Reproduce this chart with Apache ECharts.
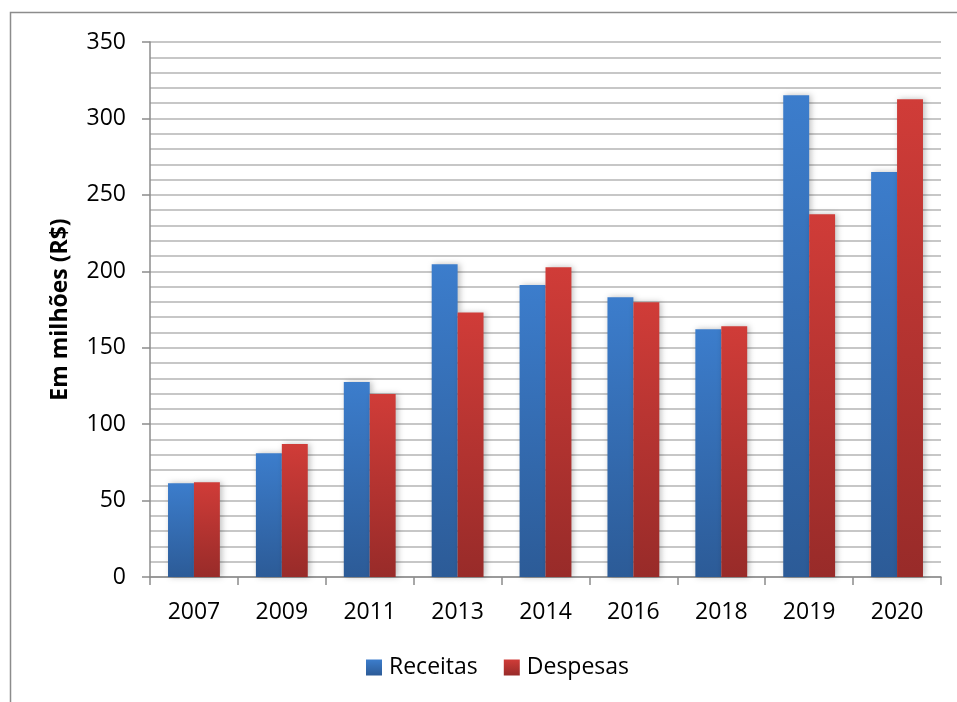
<!DOCTYPE html>
<html>
<head>
<meta charset="utf-8">
<script src="https://cdn.jsdelivr.net/npm/echarts@6/dist/echarts.min.js"></script>
<style>
html,body{margin:0;padding:0;background:#fff;}
#chart{width:957px;height:702px;}
</style>
</head>
<body>
<div id="chart"></div>
<script>
const categories = ['2007','2009','2011','2013','2014','2016','2018','2019','2020'];
const receitas = [61.3, 81, 127.5, 204.6, 191, 183, 162, 315.2, 264.9];
const despesas = [62, 87, 119.7, 173, 202.7, 179.7, 164, 237.3, 312.6];
const seriesNames = ['Receitas', 'Despesas'];
const yAxisName = 'Em milhões (R$)';

const FONT = '"Open Sans", "Noto Sans", sans-serif';
const chart = echarts.init(document.getElementById('chart'), null, {renderer: 'canvas'});

function grad(top, bottom) {
  return new echarts.graphic.LinearGradient(0, 0, 0, 1, [
    {offset: 0, color: top}, {offset: 1, color: bottom}
  ]);
}

chart.setOption({
  animation: false,
  backgroundColor: '#fff',
  graphic: [{
    type: 'rect',
    shape: {x: 10.5, y: 12.5, width: 1000, height: 1000},
    style: {fill: 'none', stroke: '#8c8c8c', lineWidth: 1.5},
    silent: true, z: -1
  }],
  grid: {left: 150, right: 16, top: 42, bottom: 125, containLabel: false},
  legend: {
    data: seriesNames,
    bottom: 18,
    left: 361,
    itemWidth: 16, itemHeight: 16, itemGap: 26,
    icon: 'rect',
    textStyle: {fontFamily: FONT, fontSize: 23, color: '#000', padding: [0,0,0,2]}
  },
  xAxis: {
    type: 'category',
    data: categories,
    axisLine: {lineStyle: {color: '#8c8c8c', width: 1.5}},
    axisTick: {show: true, length: 8, lineStyle: {color: '#8c8c8c', width: 1.5}},
    axisLabel: {fontFamily: FONT, fontSize: 23, color: '#000', margin: 24},
    splitLine: {show: false}
  },
  yAxis: {
    type: 'value',
    min: 0, max: 350, interval: 50,
    name: yAxisName,
    nameLocation: 'middle',
    nameGap: 78,
    nameTextStyle: {fontFamily: FONT, fontSize: 23, fontWeight: 'bold', color: '#000'},
    axisLine: {show: true, lineStyle: {color: '#8c8c8c', width: 1.5}},
    axisTick: {show: true, length: 8, lineStyle: {color: '#8c8c8c', width: 1.5}},
    axisLabel: {fontFamily: FONT, fontSize: 23, color: '#000', margin: 24},
    splitLine: {show: true, lineStyle: {color: '#b5b5b5', width: 1.5}},
    minorTick: {show: false, splitNumber: 5},
    minorSplitLine: {show: true, lineStyle: {color: '#b5b5b5', width: 1.5}}
  },
  series: [
    {
      name: seriesNames[0], type: 'bar', data: receitas,
      barGap: '0%', barCategoryGap: '41%',
      itemStyle: {color: grad('#3c7dcc', '#2c5b97'), shadowBlur: 6, shadowColor: 'rgba(0,0,0,0.25)', shadowOffsetX: 2}
    },
    {
      name: seriesNames[1], type: 'bar', data: despesas,
      barGap: '0%', barCategoryGap: '41%',
      itemStyle: {color: grad('#d03c38', '#982b29'), shadowBlur: 6, shadowColor: 'rgba(0,0,0,0.25)', shadowOffsetX: 2}
    }
  ]
});
</script>
</body>
</html>
